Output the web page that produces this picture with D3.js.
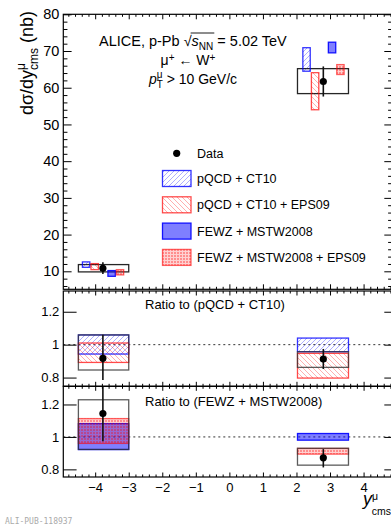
<!DOCTYPE html>
<html><head><meta charset="utf-8">
<script src="https://cdn.jsdelivr.net/npm/d3@7"></script>
<style>
body{margin:0;background:#fff;}
svg{display:block;font-family:"Liberation Sans",Arial,Helvetica,sans-serif;}
</style>
</head><body>
<svg id="c" width="391" height="526"></svg>
<script>
// ---------------- DATA ----------------
// rapidity bins
const binLo = [-4.5, 2.03];
const binHi = [-3.0, 3.55];
// measured data (main panel, nb)
const dataX = [-3.77, 2.8];
const dataY = [10.8, 61.7];
const dataStatLo = [9.3, 57.6];
const dataStatHi = [12.45, 65.8];
const dataSysLo = [9.84, 58.4];
const dataSysHi = [11.83, 65.2];
// model predictions (main panel, nb)
const ct10Lo = [11.09, 64.5],     ct10Hi = [12.56, 70.9];
const ct10Eps09Lo = [10.46, 54.0], ct10Eps09Hi = [12.1, 64.1];
const fewzLo = [8.64, 69.5],      fewzHi = [10.2, 72.4];
const fewzEps09Lo = [9.02, 63.6],  fewzEps09Hi = [10.46, 66.3];
// model rapidity offsets relative to data point (drawn side by side)
const modelNames = ["pQCD + CT10", "pQCD + CT10 + EPS09", "FEWZ + MSTW2008", "FEWZ + MSTW2008 + EPS09"];
const modelOffset = [-0.5, -0.245, 0.26, 0.51];
const modelHalfWidth = 0.11;
// ratio to pQCD + CT10
const r1DataY = [0.917, 0.913];
const r1StatLo = [0.785, 0.852], r1StatHi = [1.06, 0.974];
const r1SysLo = [0.846, 0.862],  r1SysHi = [1.059, 0.957];
const r1Ct10Lo = [0.943, 0.957], r1Ct10Hi = [1.059, 1.04];
const r1EpsLo = [0.892, 0.797],  r1EpsHi = [1.01, 0.947];
// ratio to FEWZ + MSTW2008
const r2DataY = [1.144, 0.871];
const r2StatLo = [0.974, 0.812], r2StatHi = [1.307, 0.925];
const r2SysLo = [0.923, 0.826],  r2SysHi = [1.229, 0.93];
const r2FewzLo = [0.922, 0.98],  r2FewzHi = [1.082, 1.021];
const r2EpsLo = [0.96, 0.894],   r2EpsHi = [1.113, 0.929];
// axis ticks
const mainYTicks = [10, 20, 30, 40, 50, 60, 70, 80];
const ratioYTicks = [0.8, 1, 1.2];
const xTicks = [-4, -3, -2, -1, 0, 1, 2, 3, 4];

// ---------------- SETUP ----------------
const svg = d3.select("#c");
const defs = svg.append("defs");
const BLUE = "#0000ff", RED = "#ff0000";

const hb = defs.append("pattern").attr("id","hBlue").attr("patternUnits","userSpaceOnUse").attr("width",5).attr("height",5);
hb.append("path").attr("d","M0,5 L5,0 M-1,1 L1,-1 M4,6 L6,4").attr("stroke",BLUE).attr("stroke-opacity",0.42).attr("stroke-width",0.75);
const hr = defs.append("pattern").attr("id","hRed").attr("patternUnits","userSpaceOnUse").attr("width",5).attr("height",5);
hr.append("path").attr("d","M0,0 L5,5 M-1,4 L1,6 M4,-1 L6,1").attr("stroke",RED).attr("stroke-opacity",0.42).attr("stroke-width",0.75);
const dr = defs.append("pattern").attr("id","dRed").attr("patternUnits","userSpaceOnUse").attr("width",3).attr("height",3);
dr.append("rect").attr("width",3).attr("height",3).attr("fill",RED).attr("fill-opacity",0.18);
dr.append("rect").attr("width",2).attr("height",2).attr("fill",RED).attr("fill-opacity",0.32);

const styles = [
  {fill:"url(#hBlue)", stroke:BLUE, so:0.8},
  {fill:"url(#hRed)", stroke:RED, so:0.7},
  {fill:"rgba(0,0,255,0.5)", stroke:BLUE, so:0.9},
  {fill:"url(#dRed)", stroke:RED, so:0.6}
];

const X0 = 63.3, X1 = 392.1;
const x = d3.scaleLinear().domain([-4.95, 4.85]).range([X0, X1]);
const yMain = d3.scaleLinear().domain([5.1, 80]).range([289.3, 14.3]);
const yR1 = d3.scaleLinear().domain([0.747, 1.326]).range([386.3, 291]);
const yR2 = d3.scaleLinear().domain([0.753, 1.312]).range([477, 386.3]);

function box(g, x0, x1, ylo, yhi, st){
  g.append("rect")
    .attr("x", x(x0)).attr("width", x(x1)-x(x0))
    .attr("y", st.y(yhi)).attr("height", st.y(ylo)-st.y(yhi))
    .attr("fill", st.fill).attr("stroke", st.stroke)
    .attr("stroke-opacity", st.so == null ? 1 : st.so)
    .attr("stroke-width", st.sw || 1.3);
}
function dataPoint(g, y, xv, v, lo, hi, r){
  g.append("line").attr("x1",x(xv)).attr("x2",x(xv)).attr("y1",y(lo)).attr("y2",y(hi))
    .attr("stroke","#111").attr("stroke-width",1.6);
  g.append("circle").attr("cx",x(xv)).attr("cy",y(v)).attr("r",r).attr("fill","#000");
}

function axes(y, yTicks, yMinor, yLen, xMaj, xMin, showXLabels, yFmt, yFont){
  const [b, t] = y.range();
  const g = svg.append("g");
  g.append("rect").attr("x",X0).attr("y",t).attr("width",X1-X0).attr("height",b-t)
   .attr("fill","none").attr("stroke","#000").attr("stroke-width",1.2);
  const majX = xTicks;
  const minX = d3.range(-48, 49, 2).map(d=>d/10).filter(d=>Math.abs(d-Math.round(d))>1e-6);
  g.append("g").attr("transform",`translate(0,${b})`)
    .call(d3.axisBottom(x).tickValues(majX).tickSize(-xMaj).tickPadding(5.5).tickFormat(showXLabels? d3.format("d") : ""))
    .call(s=>{s.select(".domain").remove(); s.selectAll("text").attr("font-size",13).attr("fill","#000").attr("font-family","Liberation Sans, Arial, sans-serif");});
  g.append("g").attr("transform",`translate(0,${b})`)
    .call(d3.axisBottom(x).tickValues(minX).tickSize(-xMin).tickFormat(""))
    .call(s=>s.select(".domain").remove());
  g.append("g").attr("transform",`translate(0,${t})`)
    .call(d3.axisTop(x).tickValues(majX).tickSize(-xMaj).tickFormat(""))
    .call(s=>s.select(".domain").remove());
  g.append("g").attr("transform",`translate(0,${t})`)
    .call(d3.axisTop(x).tickValues(minX).tickSize(-xMin).tickFormat(""))
    .call(s=>s.select(".domain").remove());
  g.append("g").attr("transform",`translate(${X0},0)`)
    .call(d3.axisLeft(y).tickValues(yTicks).tickSize(-yLen).tickPadding(4).tickFormat(yFmt))
    .call(s=>{s.select(".domain").remove(); s.selectAll("text").attr("font-size",yFont).attr("fill","#000").attr("font-family","Liberation Sans, Arial, sans-serif");});
  if (yMinor.length) g.append("g").attr("transform",`translate(${X0},0)`)
    .call(d3.axisLeft(y).tickValues(yMinor).tickSize(-yLen/2).tickFormat(""))
    .call(s=>s.select(".domain").remove());
  g.append("g").attr("transform",`translate(${X1},0)`)
    .call(d3.axisRight(y).tickValues(yTicks).tickSize(-7.8).tickFormat(""))
    .call(s=>s.select(".domain").remove());
  if (yMinor.length) g.append("g").attr("transform",`translate(${X1},0)`)
    .call(d3.axisRight(y).tickValues(yMinor).tickSize(-4).tickFormat(""))
    .call(s=>s.select(".domain").remove());
  g.selectAll(".tick line").attr("stroke","#000").attr("stroke-width",1);
  return g;
}

// ---------------- MAIN PANEL ----------------
const main = svg.append("g");
const mainMinor = d3.range(6, 81, 2).filter(d=>d%10!==0);
binLo.forEach((lo,i)=> box(main, lo, binHi[i], dataSysLo[i], dataSysHi[i], {y:yMain, fill:"none", stroke:"#000", so:0.85, sw:1.3}));
const modLo = [ct10Lo, ct10Eps09Lo, fewzLo, fewzEps09Lo];
const modHi = [ct10Hi, ct10Eps09Hi, fewzHi, fewzEps09Hi];
modLo.forEach((lo,m)=>{
  dataX.forEach((xv,i)=>{
    const c = xv + modelOffset[m];
    box(main, c-modelHalfWidth, c+modelHalfWidth, lo[i], modHi[m][i], Object.assign({y:yMain}, styles[m]));
  });
});
dataX.forEach((xv,i)=> dataPoint(main, yMain, xv, dataY[i], dataStatLo[i], dataStatHi[i], 3.6));
axes(yMain, mainYTicks, mainMinor, 8.3, 5, 2.5, false, d3.format("d"), 14.5);

// ---------------- RATIO 1 ----------------
const r1 = svg.append("g");
r1.append("line").attr("x1",X0).attr("x2",X1).attr("y1",yR1(1)).attr("y2",yR1(1))
  .attr("stroke","#333").attr("stroke-dasharray","2,3").attr("stroke-width",1);
binLo.forEach((lo,i)=>{
  box(r1, lo, binHi[i], r1Ct10Lo[i], r1Ct10Hi[i], Object.assign({y:yR1}, styles[0]));
  box(r1, lo, binHi[i], r1EpsLo[i], r1EpsHi[i], Object.assign({y:yR1}, styles[1]));
  box(r1, lo, binHi[i], r1SysLo[i], r1SysHi[i], {y:yR1, fill:"none", stroke:"#333", so:0.8, sw:1.3});
});
dataX.forEach((xv,i)=> dataPoint(r1, yR1, xv, r1DataY[i], r1StatLo[i], r1StatHi[i], 3.6));
axes(yR1, ratioYTicks, [], 13.3, 4.5, 2.5, false, d3.format("~g"), 13);
r1.append("text").attr("x",145).attr("y",308.5).attr("font-size",13).text("Ratio to (pQCD + CT10)");

// ---------------- RATIO 2 ----------------
const r2 = svg.append("g");
r2.append("line").attr("x1",X0).attr("x2",X1).attr("y1",yR2(1)).attr("y2",yR2(1))
  .attr("stroke","#333").attr("stroke-dasharray","2,3").attr("stroke-width",1);
binLo.forEach((lo,i)=>{
  box(r2, lo, binHi[i], r2FewzLo[i], r2FewzHi[i], Object.assign({y:yR2}, styles[2]));
  box(r2, lo, binHi[i], r2EpsLo[i], r2EpsHi[i], Object.assign({y:yR2}, styles[3]));
  box(r2, lo, binHi[i], r2SysLo[i], r2SysHi[i], {y:yR2, fill:"none", stroke:"#333", so:0.8, sw:1.3});
});
dataX.forEach((xv,i)=> dataPoint(r2, yR2, xv, r2DataY[i], r2StatLo[i], r2StatHi[i], 3.6));
axes(yR2, ratioYTicks, [], 13.3, 4.5, 2.5, true, d3.format("~g"), 13);
r2.append("text").attr("x",145).attr("y",406).attr("font-size",13).text("Ratio to (FEWZ + MSTW2008)");

// ---------------- LEGEND ----------------
const leg = svg.append("g");
leg.append("circle").attr("cx",176.7).attr("cy",153.3).attr("r",3.6).attr("fill","#000");
leg.append("text").attr("x",197).attr("y",157.8).attr("font-size",12.5).text("Data");
modelNames.forEach((n,m)=>{
  const cy = 178.5 + m*26.3;
  leg.append("rect").attr("x",162.5).attr("y",cy-8).attr("width",28.5).attr("height",16)
    .attr("fill",styles[m].fill).attr("stroke",styles[m].stroke).attr("stroke-opacity",styles[m].so).attr("stroke-width",1.3);
  leg.append("text").attr("x",197).attr("y",cy+4.5).attr("font-size",12.5).text(n);
});

// ---------------- TEXT ----------------
const t1 = svg.append("text").attr("x",99).attr("y",46).attr("font-size",14.5);
t1.append("tspan").text("ALICE, p-Pb ");
t1.append("tspan").text("\u221A");
t1.append("tspan").attr("font-style","italic").text("s");
t1.append("tspan").attr("font-size",10).attr("dy",3.5).text("NN");
t1.append("tspan").attr("dy",-3.5).text(" = 5.02 TeV");
{
  const node = t1.node();
  const sx = node.getStartPositionOfChar(12).x;
  const ex = node.getEndPositionOfChar(15).x;
  svg.append("line").attr("x1",sx+7).attr("x2",ex+1).attr("y1",46-13).attr("y2",46-13)
    .attr("stroke","#000").attr("stroke-width",0.9);
}
const t2 = svg.append("text").attr("x",188).attr("y",65).attr("font-size",14).attr("text-anchor","middle");
t2.append("tspan").text("\u03BC");
t2.append("tspan").attr("font-size",10).attr("dy",-4.5).text("+");
t2.append("tspan").attr("dy",4.5).text(" \u2190 W");
t2.append("tspan").attr("font-size",10).attr("dy",-4.5).text("+");
const t3 = svg.append("text").attr("x",193).attr("y",83.5).attr("font-size",14).attr("text-anchor","middle");
t3.append("tspan").attr("font-style","italic").text("p");
t3.append("tspan").attr("font-size",10).attr("dy",-6).text("\u03BC");
t3.append("tspan").attr("font-size",10).attr("dx",-5.8).attr("dy",10).text("T");
t3.append("tspan").attr("dy",-4).text(" > 10 GeV/c");

// y title
const yt = svg.append("text").attr("transform","translate(33,11) rotate(-90)").attr("text-anchor","end").attr("font-size",18);
yt.append("tspan").text("d\u03C3/dy");
yt.append("tspan").attr("font-size",12).attr("dy",-8).text("\u03BC");
yt.append("tspan").attr("font-size",12).attr("dx",-7).attr("dy",13).text("cms");
yt.append("tspan").attr("dy",-5).text(" (nb)");

// x title
const xt = svg.append("text").attr("x",363).attr("y",504.5).attr("font-size",18);
xt.append("tspan").attr("font-style","italic").text("y");
xt.append("tspan").attr("font-size",10.5).attr("dy",-4.5).text("\u03BC");
xt.append("tspan").attr("font-size",10.5).attr("dx",-6.2).attr("dy",15).text("cms");

svg.append("text").attr("x",5).attr("y",524).attr("font-size",8).attr("fill","#aaa")
  .attr("font-family","DejaVu Sans Mono, monospace").text("ALI-PUB-118937");
</script>
</body></html>
